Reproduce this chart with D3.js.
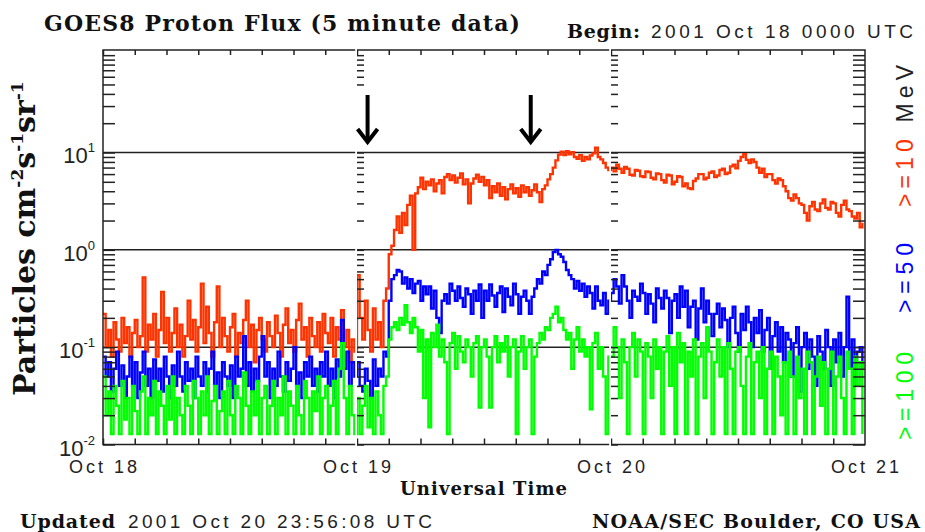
<!DOCTYPE html>
<html>
<head>
<meta charset="utf-8">
<script src="https://cdn.jsdelivr.net/npm/d3@7"></script>
<style>
body { margin: 0; background: #fff; }
.serif { font-family: "DejaVu Serif", serif; font-weight: bold; fill: #111; }
.sans { font-family: "Liberation Sans", Arial, sans-serif; fill: #222; }
</style>
</head>
<body>
<div id="goes_chart"></div>
<script>

// 15 minute readings, 2001 Oct 18 00:00 to Oct 20 23:45 UTC (96 per day)
var flux10 = [
  // Oct 18
  0.22, 0.1, 0.15, 0.08, 0.18, 0.12, 0.09, 0.2, 0.11, 0.16, 0.08, 0.14, 0.19, 0.1, 0.13, 0.52,
  0.09, 0.17, 0.12, 0.22, 0.08, 0.15, 0.37, 0.11, 0.2, 0.09, 0.14, 0.25, 0.1, 0.17, 0.08, 0.13,
  0.3, 0.12, 0.19, 0.09, 0.16, 0.45, 0.11, 0.26, 0.14, 0.08, 0.18, 0.42, 0.1, 0.2, 0.13, 0.09,
  0.16, 0.22, 0.08, 0.14, 0.11, 0.19, 0.3, 0.1, 0.17, 0.07, 0.15, 0.2, 0.12, 0.09, 0.18, 0.13,
  0.1, 0.21, 0.14, 0.08, 0.17, 0.25, 0.11, 0.15, 0.09, 0.19, 0.28, 0.12, 0.16, 0.08, 0.2, 0.13,
  0.1, 0.18, 0.09, 0.22, 0.14, 0.11, 0.2, 0.08, 0.16, 0.12, 0.24, 0.1, 0.15, 0.07, 0.12, 0.09,
  // Oct 19
  0.55, 0.2, 0.12, 0.3, 0.15, 0.09, 0.25, 0.12, 0.18, 0.1, 0.3, 0.4, 0.9, 1.1, 1.6, 2.2,
  1.5, 2.4, 1.8, 2.9, 3.6, 1.0, 3.8, 4.4, 5.5, 4.2, 5.0, 4.6, 5.3, 4.0, 4.8, 5.2,
  3.8, 5.6, 6.0, 5.2, 5.8, 4.9, 5.5, 6.1, 4.7, 5.3, 3.0, 4.8, 5.4, 5.9, 5.0, 5.6,
  4.6, 5.2, 3.4, 4.5, 3.9, 4.8, 3.6, 4.4, 3.3, 4.2, 4.7, 3.8, 4.3, 3.5, 4.6, 3.9,
  4.4, 3.6, 4.1, 4.7, 3.9, 3.1, 4.2, 4.6, 5.3, 6.0, 7.0, 8.3, 9.5, 10.2, 9.4, 10.3,
  9.6, 10.1, 9.0, 8.6, 9.4, 8.2, 9.0, 8.5, 9.3, 9.8, 11.2, 9.0, 8.5, 7.8, 7.0, 6.6,
  // Oct 20
  7.0, 6.4, 7.5, 6.8, 6.2, 7.1, 6.8, 5.9, 5.8, 6.6, 6.5, 5.7, 5.6, 6.4, 6.3, 5.5,
  5.3, 6.1, 6.0, 5.2, 4.9, 5.9, 5.8, 4.7, 5.0, 5.7, 5.6, 4.5, 4.8, 4.3, 4.2, 5.1,
  5.4, 6.0, 6.0, 5.3, 5.5, 6.2, 6.4, 5.6, 5.8, 6.6, 6.8, 6.0, 6.2, 7.2, 7.5, 6.9,
  8.2, 9.0, 9.6, 8.4, 7.8, 8.5, 8.0, 7.0, 6.2, 6.8, 5.6, 6.0, 6.0, 5.2, 4.8, 5.4,
  5.2, 4.5, 4.0, 3.4, 3.2, 3.7, 3.4, 3.0, 2.9, 2.4, 2.0, 2.8, 3.1, 2.6, 2.5, 3.0,
  3.3, 2.7, 2.6, 3.1, 3.0, 2.4, 2.2, 2.9, 3.2, 2.6, 2.5, 2.2, 2.1, 2.4, 1.7, 1.9
];

var flux50 = [
  // Oct 18
  0.08, 0.05, 0.07, 0.035, 0.06, 0.09, 0.04, 0.065, 0.03, 0.05, 0.08, 0.04, 0.07, 0.03, 0.055, 0.09,
  0.04, 0.06, 0.03, 0.075, 0.045, 0.06, 0.035, 0.08, 0.05, 0.03, 0.065, 0.04, 0.09, 0.05, 0.035, 0.07,
  0.045, 0.06, 0.03, 0.08, 0.05, 0.04, 0.07, 0.035, 0.06, 0.09, 0.04, 0.055, 0.03, 0.07, 0.05, 0.04,
  0.065, 0.03, 0.08, 0.05, 0.06, 0.13, 0.04, 0.07, 0.035, 0.06, 0.045, 0.08, 0.13, 0.05, 0.07, 0.03,
  0.06, 0.04, 0.09, 0.05, 0.035, 0.07, 0.045, 0.06, 0.1, 0.04, 0.055, 0.03, 0.07, 0.05, 0.08, 0.04,
  0.06, 0.035, 0.07, 0.05, 0.09, 0.04, 0.06, 0.03, 0.075, 0.05, 0.19, 0.06, 0.09, 0.04, 0.07, 0.05,
  // Oct 19
  0.07, 0.04, 0.035, 0.06, 0.045, 0.03, 0.075, 0.04, 0.06, 0.05, 0.09, 0.08, 0.3, 0.5, 0.55, 0.62,
  0.6, 0.45, 0.52, 0.4, 0.5, 0.36, 0.45, 0.48, 0.3, 0.42, 0.35, 0.42, 0.25, 0.38, 0.2, 0.14,
  0.3, 0.35, 0.28, 0.45, 0.38, 0.3, 0.42, 0.32, 0.26, 0.4, 0.35, 0.22, 0.38, 0.3, 0.44, 0.2,
  0.38, 0.3, 0.44, 0.34, 0.26, 0.36, 0.42, 0.23, 0.4, 0.33, 0.27, 0.45, 0.35, 0.22, 0.33, 0.38,
  0.3, 0.22, 0.33, 0.4, 0.5, 0.45, 0.6, 0.55, 0.7, 0.8, 0.95, 1.0, 0.9, 0.85, 0.75, 0.62,
  0.55, 0.5, 0.4, 0.48, 0.38, 0.45, 0.33, 0.42, 0.36, 0.25, 0.42, 0.3, 0.27, 0.36, 0.22, 0.3,
  // Oct 20
  0.36, 0.5, 0.42, 0.28, 0.55, 0.42, 0.3, 0.2, 0.38, 0.33, 0.3, 0.45, 0.36, 0.22, 0.35, 0.28,
  0.18, 0.4, 0.32, 0.25, 0.38, 0.32, 0.14, 0.3, 0.35, 0.2, 0.42, 0.26, 0.38, 0.16, 0.26, 0.3,
  0.12, 0.25, 0.4, 0.18, 0.3, 0.22, 0.13, 0.22, 0.28, 0.16, 0.25, 0.19, 0.1, 0.2, 0.26, 0.14,
  0.09, 0.22, 0.15, 0.26, 0.18, 0.1, 0.2, 0.14, 0.24, 0.09, 0.15, 0.2, 0.06, 0.13, 0.18, 0.09,
  0.16, 0.07, 0.14, 0.12, 0.05, 0.11, 0.16, 0.035, 0.1, 0.14, 0.06, 0.12, 0.08, 0.04, 0.13, 0.09,
  0.06, 0.15, 0.1, 0.04, 0.12, 0.07, 0.14, 0.05, 0.1, 0.33, 0.06, 0.12, 0.04, 0.09, 0.1, 0.06
];

var flux100 = [
  // Oct 18
  0.05, 0.02, 0.035, 0.0128, 0.04, 0.025, 0.0128, 0.045, 0.018, 0.03, 0.0128, 0.04, 0.022, 0.0128, 0.035, 0.05,
  0.0128, 0.03, 0.02, 0.045, 0.0128, 0.035, 0.025, 0.0128, 0.04, 0.018, 0.05, 0.0128, 0.03, 0.02, 0.0128, 0.04,
  0.025, 0.0128, 0.045, 0.03, 0.0128, 0.035, 0.02, 0.05, 0.0128, 0.028, 0.04, 0.0128, 0.022, 0.035, 0.0128, 0.045,
  0.02, 0.0128, 0.04, 0.03, 0.0128, 0.055, 0.025, 0.0128, 0.035, 0.02, 0.045, 0.0128, 0.03, 0.04, 0.0128, 0.025,
  0.045, 0.0128, 0.03, 0.02, 0.05, 0.0128, 0.035, 0.025, 0.0128, 0.04, 0.02, 0.0128, 0.045, 0.03, 0.0128, 0.035,
  0.022, 0.05, 0.0128, 0.03, 0.04, 0.0128, 0.025, 0.045, 0.0128, 0.06, 0.11, 0.03, 0.0128, 0.04, 0.02, 0.0128,
  // Oct 19
  0.03, 0.0128, 0.025, 0.04, 0.015, 0.03, 0.0128, 0.035, 0.02, 0.0128, 0.04, 0.05, 0.12, 0.16, 0.18, 0.15,
  0.2, 0.17, 0.27, 0.18, 0.14, 0.2, 0.16, 0.09, 0.15, 0.03, 0.12, 0.015, 0.14, 0.1, 0.17, 0.08,
  0.12, 0.07, 0.0128, 0.11, 0.14, 0.06, 0.13, 0.09, 0.07, 0.12, 0.1, 0.05, 0.11, 0.13, 0.024, 0.1,
  0.12, 0.08, 0.024, 0.1, 0.13, 0.07, 0.11, 0.09, 0.13, 0.05, 0.1, 0.12, 0.0128, 0.09, 0.13, 0.06,
  0.1, 0.12, 0.0128, 0.08, 0.11, 0.14, 0.12, 0.16, 0.15, 0.2, 0.22, 0.26, 0.18, 0.2, 0.15, 0.12,
  0.14, 0.06, 0.12, 0.16, 0.09, 0.12, 0.08, 0.1, 0.023, 0.11, 0.14, 0.06, 0.1, 0.05, 0.0128, 0.08,
  // Oct 20
  0.08, 0.16, 0.1, 0.03, 0.12, 0.07, 0.0128, 0.1, 0.14, 0.05, 0.12, 0.09, 0.0128, 0.11, 0.08, 0.03,
  0.12, 0.06, 0.1, 0.0128, 0.09, 0.13, 0.04, 0.1, 0.0128, 0.14, 0.07, 0.11, 0.0128, 0.09, 0.05, 0.12,
  0.0128, 0.08, 0.11, 0.03, 0.16, 0.09, 0.0128, 0.07, 0.12, 0.05, 0.1, 0.0128, 0.11, 0.06, 0.0128, 0.09,
  0.1, 0.04, 0.0128, 0.08, 0.11, 0.0128, 0.07, 0.09, 0.03, 0.1, 0.0128, 0.06, 0.09, 0.0128, 0.08, 0.05,
  0.02, 0.07, 0.0128, 0.09, 0.05, 0.0128, 0.08, 0.03, 0.06, 0.0128, 0.09, 0.07, 0.0128, 0.05, 0.08, 0.025,
  0.07, 0.0128, 0.06, 0.09, 0.0128, 0.05, 0.08, 0.03, 0.0128, 0.09, 0.06, 0.0128, 0.08, 0.04, 0.07, 0.0128
];

var series = [
  { name: ">=10", values: flux10, colour: "#ff3300" },
  { name: ">=50", values: flux50, colour: "#0000ff" },
  { name: ">=100", values: flux100, colour: "#00ff00" }
];

var dayLabels = ["Oct 18", "Oct 19", "Oct 20", "Oct 21"];
var decades = [0.01, 0.1, 1, 10];
var decadeExp = ["-2", "-1", "0", "1"];
var flareTimes = [new Date(Date.UTC(2001, 9, 19, 1, 0)), new Date(Date.UTC(2001, 9, 19, 16, 25))];

var width = 925,
height = 532;

var start = new Date(Date.UTC(2001, 9, 18)),
end = new Date(Date.UTC(2001, 9, 21));
var days = d3.utcDay.range(start, d3.utcDay.offset(end, 1));

var plotLeft = 103, plotRight = 865, plotTop = 50, plotBottom = 444.5;

var x = d3.scaleUtc()
.domain([start, end])
.range([plotLeft, plotRight]);

var y = d3.scaleLog()
.domain([0.01, 113])
.range([plotBottom, plotTop]);

var svg = d3.select("#goes_chart")
.append("svg")
.attr("width", width)
.attr("height", height)
.style("display", "block");

svg.append("defs").append("clipPath")
.attr("id", "plot_clip")
.append("rect")
.attr("x", plotLeft).attr("y", plotTop)
.attr("width", plotRight - plotLeft).attr("height", plotBottom - plotTop);

// decade grid lines
svg.append("g")
.selectAll("line")
.data(decades.slice(1))
.enter().append("line")
.attr("x1", plotLeft).attr("x2", plotRight)
.attr("y1", function(d) { return y(d); })
.attr("y2", function(d) { return y(d); })
.attr("stroke", "#222")
.attr("stroke-width", 1.5);

var line = d3.line()
.curve(d3.curveStepAfter)
.x(function(d, i) { return x(d3.utcMinute.offset(start, i * 15)); })
.y(function(d) { return y(d); });

svg.append("g")
.attr("clip-path", "url(#plot_clip)")
.selectAll("path")
.data(series)
.enter().append("path")
.attr("d", function(d) { return line(d.values); })
.attr("fill", "none")
.attr("stroke", function(d) { return d.colour; })
.attr("stroke-width", 2.4)
.attr("stroke-linejoin", "miter");

// frame
svg.append("rect")
.attr("x", plotLeft).attr("y", plotTop)
.attr("width", plotRight - plotLeft).attr("height", plotBottom - plotTop)
.attr("fill", "none")
.attr("stroke", "#222")
.attr("stroke-width", 1.5);

// 3 hourly ticks top and bottom
var hourTicks = d3.utcHour.every(3).range(start, end);
svg.append("g")
.attr("transform", "translate(0," + plotBottom + ")")
.call(d3.axisTop(x).tickValues(hourTicks).tickSize(6).tickFormat(""))
.call(function(g) { g.select(".domain").remove(); });
svg.append("g")
.attr("transform", "translate(0," + plotTop + ")")
.call(d3.axisBottom(x).tickValues(hourTicks).tickSize(5).tickFormat(""))
.call(function(g) { g.select(".domain").remove(); });

// white gaps at day boundaries
svg.append("g")
.selectAll("rect")
.data(days.slice(1, 3))
.enter().append("rect")
.attr("x", function(d) { return x(d) - 1.8; })
.attr("y", plotTop - 2)
.attr("width", 1.8)
.attr("height", plotBottom - plotTop + 4)
.attr("fill", "white");

// minor y ticks
var yTicks = y.ticks().filter(function(d) { return d <= 100; });
svg.append("g")
.attr("transform", "translate(" + plotLeft + ",0)")
.call(d3.axisRight(y).tickValues(yTicks).tickSize(12).tickFormat(""))
.call(function(g) { g.select(".domain").remove(); });
svg.append("g")
.attr("transform", "translate(" + plotRight + ",0)")
.call(d3.axisLeft(y).tickValues(yTicks).tickSize(12).tickFormat(""))
.call(function(g) { g.select(".domain").remove(); });
days.slice(1, 3).forEach(function(d) {
  svg.append("g")
  .attr("transform", "translate(" + x(d) + ",0)")
  .call(d3.axisRight(y).tickValues(yTicks).tickSize(7).tickFormat(""))
  .call(function(g) { g.select(".domain").remove(); });
});
svg.selectAll(".tick line").attr("stroke", "#222").attr("stroke-width", 1.5);

// flare arrows
var arrows = svg.append("g")
.selectAll("g")
.data(flareTimes)
.enter().append("g")
.attr("transform", function(d) { return "translate(" + x(d) + ",0)"; });
arrows.append("rect")
.attr("x", -12).attr("y", 88)
.attr("width", 24).attr("height", 58)
.attr("fill", "white");
arrows.append("line")
.attr("x1", 0).attr("x2", 0)
.attr("y1", 95).attr("y2", 141)
.attr("stroke", "black")
.attr("stroke-width", 4);
arrows.append("path")
.attr("d", "M-10,129L0,142L10,129")
.attr("fill", "none")
.attr("stroke", "black")
.attr("stroke-width", 4);

// day labels
svg.append("g")
.selectAll("text")
.data(days)
.enter().append("text")
.attr("class", "sans")
.attr("x", function(d) { return x(d); })
.attr("y", 473)
.attr("text-anchor", "middle")
.attr("font-size", 18)
.attr("textLength", 68)
.attr("lengthAdjust", "spacing")
.text(function(d, i) { return dayLabels[i]; });

// decade labels
var decadeText = svg.append("g")
.selectAll("text")
.data(decades)
.enter().append("text")
.attr("class", "sans")
.attr("x", 95)
.attr("y", function(d) { return y(d) + 11; })
.attr("text-anchor", "end")
.attr("font-size", 22);
decadeText.append("tspan").text("10");
decadeText.append("tspan")
.attr("font-size", 13)
.attr("dy", -11)
.text(function(d, i) { return decadeExp[i]; });

// titles
svg.append("text")
.attr("class", "serif")
.attr("x", 44).attr("y", 31)
.attr("font-size", 22)
.attr("textLength", 476)
.attr("lengthAdjust", "spacing")
.text("GOES8 Proton Flux (5 minute data)");

svg.append("text")
.attr("class", "serif")
.attr("x", 567).attr("y", 38)
.attr("font-size", 19)
.attr("textLength", 73)
.attr("lengthAdjust", "spacing")
.text("Begin:");
svg.append("text")
.attr("class", "sans")
.attr("x", 651).attr("y", 38)
.attr("font-size", 19)
.attr("textLength", 262)
.attr("lengthAdjust", "spacing")
.text("2001 Oct 18 0000 UTC");

svg.append("text")
.attr("class", "serif")
.attr("x", 400).attr("y", 495)
.attr("font-size", 18)
.attr("textLength", 167)
.attr("lengthAdjust", "spacing")
.text("Universal Time");

svg.append("text")
.attr("class", "serif")
.attr("x", 20).attr("y", 528)
.attr("font-size", 19)
.attr("textLength", 95)
.attr("lengthAdjust", "spacing")
.text("Updated");
svg.append("text")
.attr("class", "sans")
.attr("x", 128).attr("y", 528)
.attr("font-size", 19)
.attr("textLength", 304)
.attr("lengthAdjust", "spacing")
.text("2001 Oct 20 23:56:08 UTC");

svg.append("text")
.attr("class", "serif")
.attr("x", 592).attr("y", 528)
.attr("font-size", 19)
.attr("textLength", 328)
.attr("lengthAdjust", "spacing")
.text("NOAA/SEC Boulder, CO USA");

// y axis title
var yTitle = svg.append("text")
.attr("class", "serif")
.attr("transform", "translate(35,396) rotate(-90)")
.attr("font-size", 30);
yTitle.append("tspan").text("Particles cm");
yTitle.append("tspan").attr("font-size", 17).attr("dy", -12).text("-2");
yTitle.append("tspan").attr("dy", 12).text("s");
yTitle.append("tspan").attr("font-size", 17).attr("dy", -12).text("-1");
yTitle.append("tspan").attr("dy", 12).text("sr");
yTitle.append("tspan").attr("font-size", 17).attr("dy", -12).text("-1");

// energy channel labels on the right
var channelPos = [[207, 142], [313, 70], [440, 88]];
var channelText = svg.append("g")
.selectAll("text")
.data(series)
.enter().append("text")
.attr("class", "sans")
.attr("transform", function(d, i) { return "translate(913," + channelPos[i][0] + ") rotate(-90)"; })
.attr("font-size", 23)
.attr("textLength", function(d, i) { return channelPos[i][1]; })
.attr("lengthAdjust", "spacing");
channelText.append("tspan")
.attr("fill", function(d) { return d.colour; })
.text(function(d) { return d.name; });
channelText.filter(function(d, i) { return i == 0; })
.append("tspan")
.attr("fill", "#222")
.text(" MeV");

</script>
</body>
</html>
